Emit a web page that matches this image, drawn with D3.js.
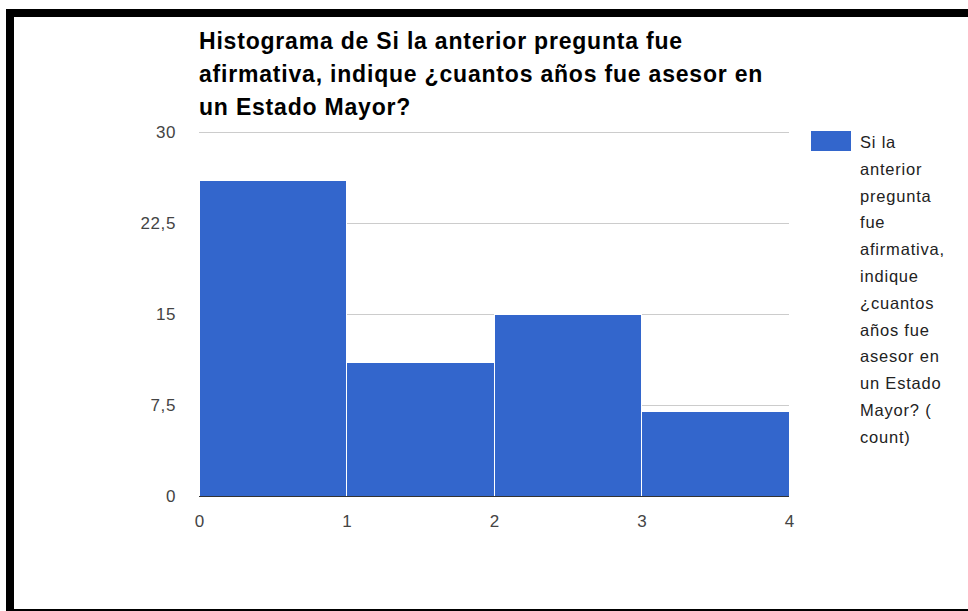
<!DOCTYPE html>
<html>
<head>
<meta charset="utf-8">
<script src="https://cdn.jsdelivr.net/npm/d3@7"></script>
<style>
  html, body { margin: 0; padding: 0; background: #fff; }
  svg { display: block; }
</style>
</head>
<body>
<svg id="chart" width="968" height="611"></svg>
<script>
// Histogram bins (years) and counts per bin
const binEdges = [0, 1, 2, 3, 4];
const counts = [26, 11, 15, 7];
const yTicks = [0, 7.5, 15, 22.5, 30];
const xTicks = [0, 1, 2, 3, 4];
const titleLines = [
  "Histograma de Si la anterior pregunta fue",
  "afirmativa, indique ¿cuantos años fue asesor en",
  "un Estado Mayor?"
];
const legendLines = [
  "Si la", "anterior", "pregunta", "fue", "afirmativa,", "indique",
  "¿cuantos", "años fue", "asesor en", "un Estado", "Mayor? (", "count)"
];

const svg = d3.select("#chart");
const font = "Arial, 'Liberation Sans', sans-serif";

// frame
svg.append("rect").attr("x", 6).attr("y", 9).attr("width", 962).attr("height", 8).attr("fill", "#000");
svg.append("rect").attr("x", 6).attr("y", 9).attr("width", 8).attr("height", 602).attr("fill", "#000");
svg.append("rect").attr("x", 6).attr("y", 609).attr("width", 962).attr("height", 2).attr("fill", "#000");

const plot = { left: 199, right: 789, top: 132, bottom: 496 };
const x = d3.scaleLinear().domain([0, 4]).range([plot.left, plot.right]);
const y = d3.scaleLinear().domain([0, 30]).range([plot.bottom, plot.top]);

// title
const title = svg.append("text")
  .attr("font-family", font).attr("font-weight", "bold")
  .attr("font-size", 23).attr("letter-spacing", 0.8).attr("fill", "#000");
titleLines.forEach((t, i) => {
  title.append("tspan").attr("x", plot.left).attr("y", 49 + i * 33).text(t);
});

// gridlines
svg.append("g").selectAll("line").data(yTicks.filter(d => d > 0)).join("line")
  .attr("x1", plot.left).attr("x2", plot.right)
  .attr("y1", d => y(d)).attr("y2", d => y(d))
  .attr("stroke", "#cccccc").attr("stroke-width", 1)
  .attr("shape-rendering", "crispEdges");

// y axis labels
const yAxis = d3.axisLeft(y).tickValues(yTicks).tickSize(0).tickPadding(23)
  .tickFormat(d => String(d).replace(".", ","));
svg.append("g").attr("transform", `translate(${plot.left},0)`).call(yAxis)
  .call(g => g.select(".domain").remove())
  .call(g => g.selectAll("text").attr("font-family", font).attr("font-size", 17)
    .attr("letter-spacing", 0.6).attr("fill", "#444"));

// bars
const bins = counts.map((c, i) => ({ x0: binEdges[i], x1: binEdges[i + 1], count: c }));
svg.append("g").selectAll("rect").data(bins).join("rect")
  .attr("x", d => x(d.x0))
  .attr("y", d => y(d.count))
  .attr("width", d => x(d.x1) - x(d.x0))
  .attr("height", d => y(0) - y(d.count))
  .attr("fill", "#3366cc")
  .attr("stroke", "#ffffff").attr("stroke-width", 1)
  .attr("shape-rendering", "crispEdges");

// baseline
svg.append("line")
  .attr("x1", plot.left).attr("x2", plot.right)
  .attr("y1", y(0)).attr("y2", y(0))
  .attr("stroke", "#333333").attr("stroke-width", 1)
  .attr("shape-rendering", "crispEdges");

// x axis labels
const xAxis = d3.axisBottom(x).tickValues(xTicks).tickSize(0).tickPadding(19)
  .tickFormat(d3.format("d"));
svg.append("g").attr("transform", `translate(0,${plot.bottom})`).call(xAxis)
  .call(g => g.select(".domain").remove())
  .call(g => g.selectAll("text").attr("font-family", font).attr("font-size", 17)
    .attr("fill", "#444"));

// legend
svg.append("rect").attr("x", 811).attr("y", 131).attr("width", 40).attr("height", 20)
  .attr("fill", "#3366cc");
const legend = svg.append("text").attr("font-family", font)
  .attr("font-size", 16.5).attr("letter-spacing", 0.8).attr("fill", "#222");
legendLines.forEach((t, i) => {
  legend.append("tspan").attr("x", 860).attr("y", 148 + i * 26.8).text(t);
});
</script>
</body>
</html>
